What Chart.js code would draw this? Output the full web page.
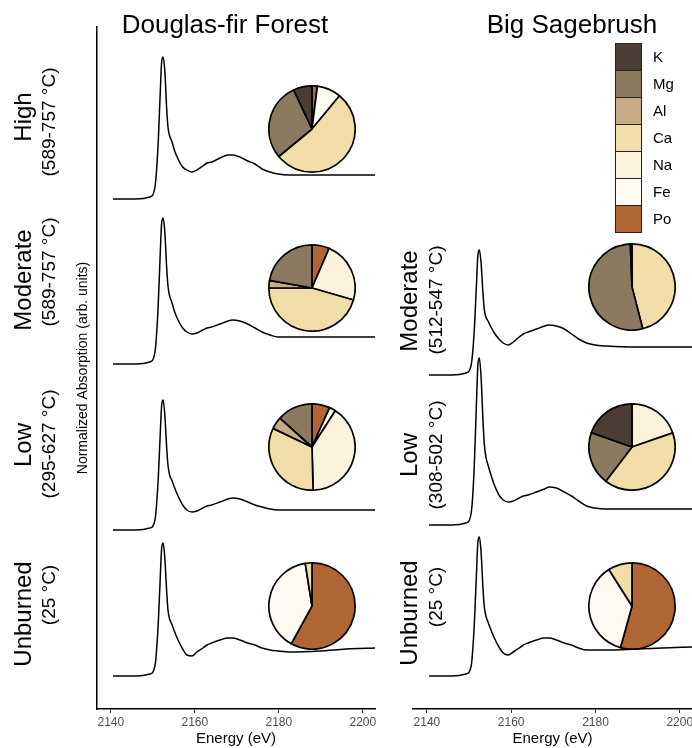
<!DOCTYPE html>
<html>
<head>
<meta charset="utf-8">
<script src="https://cdn.jsdelivr.net/npm/chart.js@4.4.1/dist/chart.umd.min.js"></script>
<style>
  html, body { margin: 0; padding: 0; background: #fff; overflow: hidden; }
  #wrap { position: relative; width: 692px; height: 748px; font-family: "Liberation Sans", Arial, sans-serif; }
  #wrap canvas { position: absolute; }
  #legend { position: absolute; left: 615px; top: 43px; }
  .lg-row { position: relative; height: 27px; }
  .lg-box { position: absolute; left: 0; top: 0; width: 25px; height: 26px; border: 1px solid #222; box-sizing: content-box; }
  .lg-txt { position: absolute; left: 38px; top: 0; line-height: 27px; font-size: 15px; color: #000; }
</style>
</head>
<body>
<div id="wrap">
  <canvas id="fir" width="390" height="748" style="left:0;top:0"></canvas>
  <canvas id="sage" width="320" height="748" style="left:390px;top:0"></canvas>
  <div id="legend"></div>
</div>
<script>
// energy grid (eV) shared by all spectra
const energy = [2140.5, 2146, 2149.3, 2150.5, 2151.2, 2151.7, 2152.1, 2152.45, 2152.85, 2153.3,
  2153.6, 2154.0, 2154.5, 2155.2, 2156.0, 2157.1, 2158.1, 2159.3, 2160.5, 2161.9,
  2162.9, 2164.0, 2166.0, 2167.9, 2169.0, 2170.7, 2172.6, 2174.3, 2176.0, 2177.9,
  2179.8, 2182.6, 2189.8, 2196, 2202.9];
const energyTicks = [2140, 2160, 2180, 2200];

// Douglas-fir Forest spectra (arb. units above each baseline)
const firHigh     = [0,0,2,12,50,100,137,142,128,90,72,63,58,48,40,32,29,27,29,33,36,37,41,44,44,42,38,35,30,27,25,24,24,24,24];
const firModerate = [0,0,2,12,52,104,141,146,132,96,78,68,62,52,44,36,32,30,31,34,36,37,40,43,44,43,40,36,32,29,27,27,27,27,27];
const firLow      = [0,0,2,10,45,90,125,130,115,82,65,55,50,42,34,25,20,18,19,22,24,25,28,31,32,31,28,25,23,21,20,20,20,20,20];
const firUnburned = [0,0,2,10,46,92,128,133,118,84,66,57,52,44,36,27,21,20,24,28,31,33,36,38,38,36,33,31,28,26,25,24,25,27,28];
const firOffsets = [510, 345, 179, 33];

// Big Sagebrush spectra
const sageModerate = [0,0,2,10,42,85,120,125,112,82,66,58,54,48,42,36,32,30,33,38,41,43,46,49,50,49,46,41,36,32,30,29,28,28,28];
const sageLow      = [0,0,2,12,55,115,160,167,148,105,82,68,60,50,40,30,25,23,24,27,29,30,33,36,38,37,33,29,24,19,17,16,16,16,16];
const sageUnburned = [0,0,2,10,48,96,134,139,124,88,70,60,54,46,38,29,23,21,24,28,31,33,36,38,38,36,33,31,28,26,26,26,27,28,29];
const sageOffsets = [334, 184, 33];

const firSeverity = ['High', 'Moderate', 'Low', 'Unburned'];
const firTemps = ['(589-757 °C)', '(589-757 °C)', '(295-627 °C)', '(25 °C)'];
const sageSeverity = ['Moderate', 'Low', 'Unburned'];
const sageTemps = ['(512-547 °C)', '(308-502 °C)', '(25 °C)'];

// pie composition (%), slice order clockwise from top
const pieOrder = ['Po', 'Fe', 'Na', 'Ca', 'Al', 'Mg', 'K'];
const firHighPie      = [2, 9, 0, 53, 0, 29, 7];
const firModeratePie  = [6.5, 0, 23, 45.5, 2.8, 22.2, 0];
const firLowPie       = [6.7, 2.4, 40.5, 32.5, 4.6, 13.3, 0];
const firUnburnedPie  = [58, 39.5, 0, 2.5, 0, 0, 0];
const sageModeratePie = [0, 0, 0, 46, 0, 53.4, 0.6];
const sageLowPie      = [0, 0, 19.7, 40.7, 0, 20, 19.6];
const sageUnburnedPie = [54.3, 36.7, 0, 9, 0, 0, 0];

const legendOrder = ['K', 'Mg', 'Al', 'Ca', 'Na', 'Fe', 'Po'];
const colors = { K: '#4b3d33', Mg: '#8b7a5f', Al: '#c6ab86', Ca: '#f1dda8', Na: '#fdf3dd', Fe: '#fffbf3', Po: '#b06535' };

const FONT = '"Liberation Sans", Arial, sans-serif';

const panelText = {
  id: 'panelText',
  afterDraw(chart, args, o) {
    const ctx = chart.ctx;
    ctx.save();
    ctx.fillStyle = '#000';
    ctx.textAlign = 'center';
    ctx.textBaseline = 'middle';
    ctx.font = '26px ' + FONT;
    ctx.fillText(o.title, o.titleX, o.titleY);
    o.big.forEach((t, i) => {
      ctx.save();
      ctx.translate(o.bigX, o.bigY[i]);
      ctx.rotate(-Math.PI / 2);
      ctx.font = '24px ' + FONT;
      ctx.fillText(t, 0, 0);
      ctx.restore();
      ctx.save();
      ctx.translate(o.smallX, o.smallY[i]);
      ctx.rotate(-Math.PI / 2);
      ctx.font = '19px ' + FONT;
      ctx.fillText(o.small[i], 0, 0);
      ctx.restore();
    });
    ctx.restore();
  }
};

function spectra(list, offsets) {
  return list.map((vals, k) => ({
    data: energy.map((e, i) => ({ x: e, y: vals[i] + offsets[k] })),
    borderColor: '#000',
    borderWidth: 1.5,
    pointRadius: 0,
    tension: 0.4,
    cubicInterpolationMode: 'monotone'
  }));
}

function xScale() {
  return {
    type: 'linear', min: 2136.7, max: 2202.9,
    afterBuildTicks: s => { s.ticks = energyTicks.map(v => ({ value: v })); },
    ticks: { color: '#4d4d4d', font: { size: 12, family: FONT }, padding: 2, maxRotation: 0, callback: v => String(v) },
    grid: { drawOnChartArea: false, drawTicks: true, tickLength: 4, color: '#333', tickWidth: 1 },
    border: { display: true, color: '#000', width: 1.5 },
    title: { display: true, text: 'Energy (eV)', color: '#000', font: { size: 15, family: FONT }, padding: 0 },
    afterFit: s => { s.height = 39; }
  };
}

new Chart(document.getElementById('fir'), {
  type: 'line',
  data: { datasets: spectra([firHigh, firModerate, firLow, firUnburned], firOffsets) },
  options: {
    responsive: false, animation: false, devicePixelRatio: 1,
    layout: { padding: { left: 75, right: 15, top: 27, bottom: 0 } },
    plugins: {
      legend: { display: false }, tooltip: { enabled: false },
      panelText: {
        title: 'Douglas-fir Forest', titleX: 225, titleY: 26,
        big: firSeverity, small: firTemps,
        bigX: 24, smallX: 50,
        bigY: [117, 280, 445, 614], smallY: [122, 272, 444, 595]
      }
    },
    scales: {
      x: xScale(),
      y: {
        min: 0, max: 682,
        ticks: { display: false },
        grid: { display: false },
        border: { display: true, color: '#000', width: 1.5 },
        title: { display: true, text: 'Normalized Absorption (arb. units)', color: '#000', font: { size: 14, family: FONT }, padding: 0 },
        afterFit: s => { s.width = 22; }
      }
    }
  },
  plugins: [panelText]
});

new Chart(document.getElementById('sage'), {
  type: 'line',
  data: { datasets: spectra([sageModerate, sageLow, sageUnburned], sageOffsets) },
  options: {
    responsive: false, animation: false, devicePixelRatio: 1,
    layout: { padding: { left: 23, right: 18, top: 27, bottom: 0 } },
    plugins: {
      legend: { display: false }, tooltip: { enabled: false },
      panelText: {
        title: 'Big Sagebrush', titleX: 182, titleY: 26,
        big: sageSeverity, small: sageTemps,
        bigX: 20, smallX: 47,
        bigY: [301, 455, 613], smallY: [300, 455, 597]
      }
    },
    scales: {
      x: xScale(),
      y: { display: false, min: 0, max: 682 }
    }
  },
  plugins: [panelText]
});

// pies
const pies = [
  [firHighPie, 312, 129], [firModeratePie, 312, 288], [firLowPie, 312, 447], [firUnburnedPie, 312, 606],
  [sageModeratePie, 632, 287], [sageLowPie, 632, 447], [sageUnburnedPie, 632, 606]
];
const wrap = document.getElementById('wrap');
pies.forEach(([vals, cx, cy]) => {
  const c = document.createElement('canvas');
  c.width = 88; c.height = 88;
  c.style.left = (cx - 44) + 'px';
  c.style.top = (cy - 44) + 'px';
  wrap.appendChild(c);
  new Chart(c, {
    type: 'pie',
    data: {
      labels: pieOrder,
      datasets: [{ data: vals, backgroundColor: pieOrder.map(k => colors[k]), borderColor: '#000', borderWidth: 1.7 }]
    },
    options: {
      responsive: false, animation: false, devicePixelRatio: 1,
      layout: { padding: 0 },
      plugins: { legend: { display: false }, tooltip: { enabled: false } }
    }
  });
});

// legend
const legend = document.getElementById('legend');
legendOrder.forEach(k => {
  const row = document.createElement('div');
  row.className = 'lg-row';
  row.innerHTML = '<div class="lg-box" style="background:' + colors[k] + '"></div><div class="lg-txt">' + k + '</div>';
  legend.appendChild(row);
});
</script>
</body>
</html>
